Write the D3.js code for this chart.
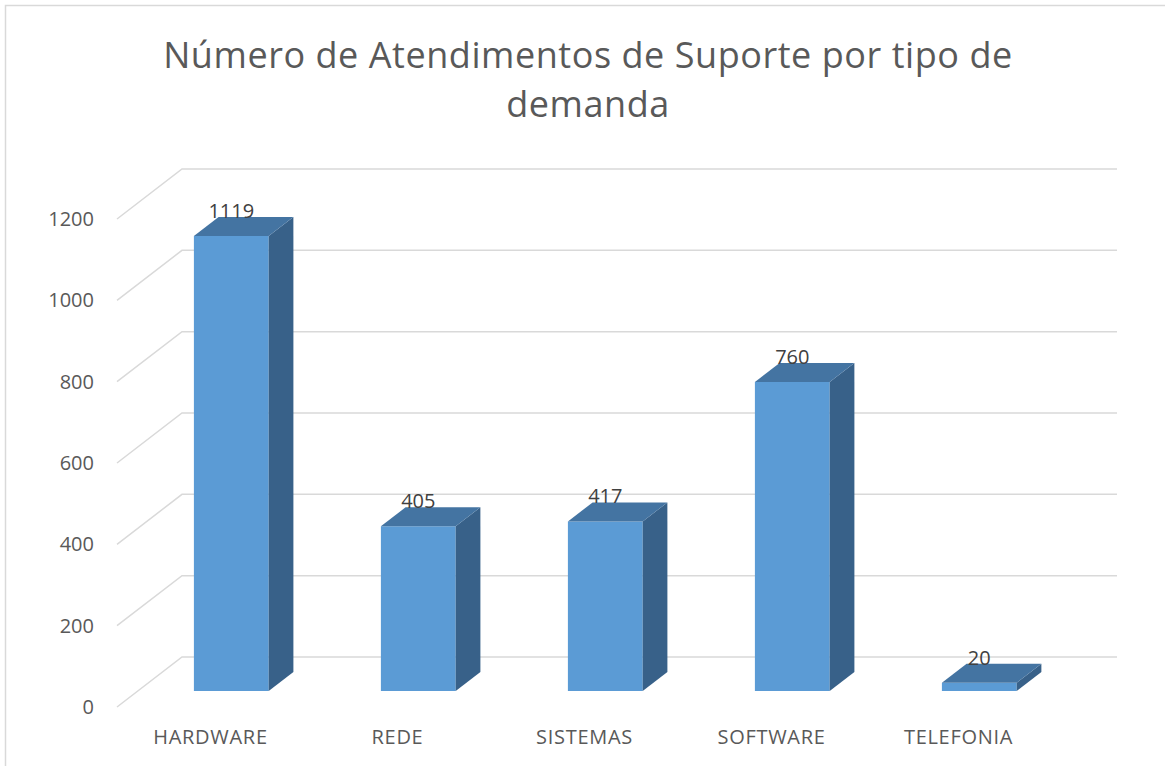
<!DOCTYPE html>
<html>
<head>
<meta charset="utf-8">
<script src="https://cdn.jsdelivr.net/npm/d3@7"></script>
<style>
  html, body { margin: 0; padding: 0; background: #fff; }
  svg { display: block; font-family: "Open Sans", sans-serif; }
</style>
</head>
<body>
<svg id="chart" width="1165" height="766"></svg>
<script>
const categories = ["HARDWARE", "REDE", "SISTEMAS", "SOFTWARE", "TELEFONIA"];
const values = [1119, 405, 417, 760, 20];
const yTicks = [0, 200, 400, 600, 800, 1000, 1200];
const titleLines = ["Número de Atendimentos de Suporte por tipo de", "demanda"];

const svg = d3.select("#chart");

// chart border (only top/left edges fall inside the picture)
svg.append("rect")
    .attr("x", 5.5).attr("y", 5.5)
    .attr("width", 1300).attr("height", 900)
    .attr("fill", "none")
    .attr("stroke", "#d9d9d9")
    .attr("stroke-width", 1.5);

// 3d depth: going back moves right and up
const depth = { dx: 65, dy: -50 };
const shift = z => [z * depth.dx, z * depth.dy];

// y on the back wall
const y = d3.scaleLinear().domain([0, 1200]).range([657, 169]);

// x bands on the front plane
const x = d3.scaleBand()
    .domain(categories)
    .range([117, 1117 - depth.dx])
    .paddingInner(0.6)
    .paddingOuter(0.3);

// gridlines: diagonal on the side wall plus horizontal on back wall
const grid = svg.append("g").attr("stroke", "#d9d9d9").attr("stroke-width", 1.5).attr("fill", "none");
yTicks.forEach(t => {
    const yb = y(t);
    grid.append("path")
        .attr("d", `M117,${yb - depth.dy}L${117 + depth.dx},${yb}L1117,${yb}`);
});

// tick labels at front ends
svg.append("g")
    .selectAll("text")
    .data(yTicks)
    .join("text")
    .attr("x", 94)
    .attr("y", d => y(d) - depth.dy)
    .attr("dy", "0.35em")
    .attr("text-anchor", "end")
    .attr("font-size", 20)
    .attr("fill", "#595959")
    .text(d => d);

// bars sit between depth z0 and z1
const z0 = 0.32, z1 = 0.7;
const data = categories.map((c, i) => ({ cat: c, val: values[i] }));

const bars = svg.append("g").selectAll("g").data(data).join("g");

bars.each(function(d) {
    const g = d3.select(this);
    const [fx, fy] = shift(z0);
    const [bx, by] = shift(z1);
    const x0 = x(d.cat), w = x.bandwidth();
    const base = y(0) - depth.dy, top = y(d.val) - depth.dy;
    // front
    g.append("path")
        .attr("d", `M${x0 + fx},${base + fy}L${x0 + w + fx},${base + fy}L${x0 + w + fx},${top + fy}L${x0 + fx},${top + fy}Z`)
        .attr("fill", "#5b9bd5");
    // side
    g.append("path")
        .attr("d", `M${x0 + w + fx},${base + fy}L${x0 + w + bx},${base + by}L${x0 + w + bx},${top + by}L${x0 + w + fx},${top + fy}Z`)
        .attr("fill", "#386189");
    // top
    g.append("path")
        .attr("d", `M${x0 + fx},${top + fy}L${x0 + w + fx},${top + fy}L${x0 + w + bx},${top + by}L${x0 + bx},${top + by}Z`)
        .attr("fill", "#4474a2");
    // value label
    g.append("text")
        .attr("x", x0 + fx + w / 2)
        .attr("y", top + by + 1)
        .attr("text-anchor", "middle")
        .attr("font-size", 20)
        .attr("fill", "#404040")
        .text(d.val);
});

// category labels on the front plane
svg.append("g")
    .selectAll("text")
    .data(categories)
    .join("text")
    .attr("x", d => x(d) + x.bandwidth() / 2)
    .attr("y", 744)
    .attr("text-anchor", "middle")
    .attr("font-size", 20)
    .attr("letter-spacing", 0.7)
    .attr("fill", "#595959")
    .text(d => d);

// title
svg.append("g")
    .selectAll("text")
    .data(titleLines)
    .join("text")
    .attr("x", 588)
    .attr("y", (d, i) => 68 + i * 49)
    .attr("text-anchor", "middle")
    .attr("font-size", 36)
    .attr("letter-spacing", 0.55)
    .attr("fill", "#595959")
    .text(d => d);
</script>
</body>
</html>
